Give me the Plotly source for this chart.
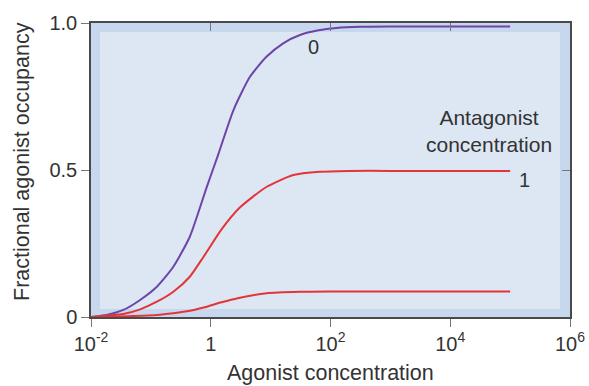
import plotly.graph_objects as go

# Agonist concentration (log10 values) and occupancy
log_x_no_antag = [-2.0, -1.74, -1.46, -1.18, -0.90, -0.625, -0.35, -0.07, 0.12, 0.38, 0.655, 0.93, 1.21, 1.49, 1.8, 2.1, 2.5, 3.0, 4.0, 5.0]
occ_no_antag = [0.0, 0.007, 0.024, 0.058, 0.103, 0.171, 0.273, 0.44, 0.55, 0.704, 0.817, 0.885, 0.931, 0.959, 0.975, 0.983, 0.987, 0.988, 0.988, 0.988]

log_x_antag_1 = [-2.0, -1.46, -1.18, -0.90, -0.625, -0.35, -0.12, 0.18, 0.49, 0.935, 1.38, 1.82, 2.3, 3.0, 4.0, 5.0]
occ_antag_1 = [0.0, 0.010, 0.026, 0.052, 0.086, 0.137, 0.205, 0.298, 0.373, 0.443, 0.483, 0.494, 0.497, 0.497, 0.497, 0.497]

log_x_antag_high = [-2.0, -1.5, -0.9, -0.625, -0.35, -0.12, 0.18, 0.45, 0.935, 1.49, 2.0, 3.0, 4.0, 5.0]
occ_antag_high = [0.0, 0.002, 0.007, 0.013, 0.021, 0.032, 0.050, 0.064, 0.081, 0.086, 0.087, 0.087, 0.087, 0.087]

x_tick_vals = [1e-2, 1, 1e2, 1e4, 1e6]
x_tick_text = ["10<sup>-2</sup>", "1", "10<sup>2</sup>", "10<sup>4</sup>", "10<sup>6</sup>"]
y_tick_vals = [0, 0.5, 1.0]
y_tick_text = ["0", "0.5", "1.0"]

PURPLE = "#6c45a6"
RED = "#e2343a"
TEXT = "#333333"
FONT = "Liberation Sans, Arial, sans-serif"

W, H = 589, 386
L, R, T, B = 91, 19, 23, 69
PW, PH = W - L - R, H - T - B


def px_x(px):
    return (px - L) / PW


def px_y(py):
    return (H - B - py) / PH


fig = go.Figure()
fig.add_trace(go.Scatter(x=[10 ** v for v in log_x_no_antag], y=occ_no_antag, mode="lines",
                         line=dict(color=PURPLE, width=2, shape="spline", smoothing=0.6),
                         showlegend=False))
fig.add_trace(go.Scatter(x=[10 ** v for v in log_x_antag_1], y=occ_antag_1, mode="lines",
                         line=dict(color=RED, width=2, shape="spline", smoothing=0.6),
                         showlegend=False))
fig.add_trace(go.Scatter(x=[10 ** v for v in log_x_antag_high], y=occ_antag_high, mode="lines",
                         line=dict(color=RED, width=2, shape="spline", smoothing=0.6),
                         showlegend=False))
# invisible trace that carries the mirrored tick axes (top / right)
fig.add_trace(go.Scatter(x=[1], y=[0.5], xaxis="x2", yaxis="y2", mode="markers",
                         marker=dict(opacity=0), showlegend=False, hoverinfo="skip"))

# inner lighter panel
fig.add_shape(type="rect", xref="x domain", yref="y domain",
              x0=9 / PW, x1=1 - 10 / PW, y0=8 / PH, y1=1 - 9 / PH,
              fillcolor="#dde7f4", line=dict(width=0), layer="below")

ann = dict(xref="paper", yref="paper", showarrow=False, xanchor="center", yanchor="middle")
fig.add_annotation(x=px_x(313), y=px_y(47), text="0",
                   font=dict(size=20, color=TEXT, family=FONT), **ann)
fig.add_annotation(x=px_x(524), y=px_y(180), text="1",
                   font=dict(size=20, color=TEXT, family=FONT), **ann)
fig.add_annotation(x=px_x(489), y=px_y(131), text="Antagonist<br>concentration", align="center",
                   font=dict(size=21, color=TEXT, family=FONT), **ann)
# axis titles
fig.add_annotation(x=px_x(330), y=px_y(373), text="Agonist concentration",
                   font=dict(size=21.5, color=TEXT, family=FONT), **ann)
fig.add_annotation(x=px_x(22), y=px_y(162), text="Fractional agonist occupancy", textangle=-90,
                   font=dict(size=21.5, color=TEXT, family=FONT), **ann)

axis_common = dict(showgrid=False, zeroline=False, linecolor="#4a4a4a", linewidth=1.5,
                   ticks="outside", ticklen=8, tickcolor="#777777", tickwidth=1,
                   automargin=False,
                   tickfont=dict(size=20, color=TEXT, family=FONT))

fig.update_layout(
    width=W, height=H,
    margin=dict(l=L, r=R, t=T, b=B, pad=0),
    paper_bgcolor="white",
    plot_bgcolor="#c6d7ee",
    xaxis=dict(type="log", range=[-2, 6], tickvals=x_tick_vals, ticktext=x_tick_text,
               showline=True, mirror=True, **axis_common),
    yaxis=dict(range=[0, 1], tickvals=y_tick_vals, ticktext=y_tick_text, showline=True, mirror=True,
               **axis_common),
    xaxis2=dict(type="log", range=[-2, 6], overlaying="x", side="top", anchor="y2",
                tickvals=[1, 1e2, 1e4], showticklabels=False, ticks="inside", ticklen=8,
                tickcolor="#777777", showgrid=False, zeroline=False, showline=False, automargin=False),
    yaxis2=dict(range=[0, 1], overlaying="y", side="right", anchor="x2",
                tickvals=[0.5], showticklabels=False, ticks="inside", ticklen=8,
                tickcolor="#777777", showgrid=False, zeroline=False, showline=False, automargin=False),
)

# remove the browser's default 8px page margin so the figure fills the window exactly
fig.write_html("out.html", config={"displayModeBar": False},
               post_script="document.body.style.margin='0';document.body.style.overflow='hidden';")
